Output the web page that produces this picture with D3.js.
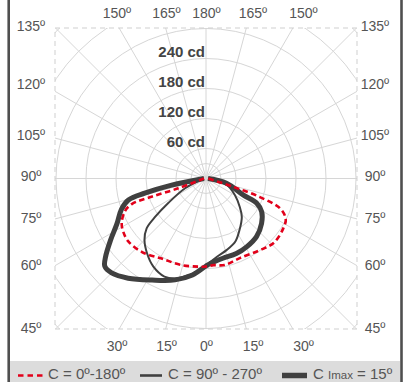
<!DOCTYPE html>
<html>
<head>
<meta charset="utf-8">
<script src="https://cdn.jsdelivr.net/npm/d3@7"></script>
<style>
  html, body { margin: 0; padding: 0; background: #fff; }
  svg { display: block; }
  text { font-family: "Liberation Sans", Arial, sans-serif; }
</style>
</head>
<body>
<svg id="chart" width="412" height="382"></svg>
<script>
// ---------- data ----------
const sideLabels = ["135º", "120º", "105º", "90º", "75º", "60º", "45º"];
const topLabels = ["150º", "165º", "180º", "165º", "150º"];
const bottomLabels = ["30º", "15º", "0º", "15º", "30º"];
const intensityTicks = [60, 120, 180, 240];
const gridCircles = [30, 60, 120, 180, 240, 300, 360, 420];

// C = 0º-180º (red dashed): right half C0, left half C180
const gammaC0 = [0, 5, 12, 23, 39, 47, 57, 63, 68, 71, 73, 90];
const valueC0 = [176, 174, 177, 173, 181, 187, 184, 179, 160, 114, 57, 4];
const gammaC180 = [0, 5, 16, 29, 41, 51, 57, 62, 68, 71, 71.5, 70.5, 90];
const valueC180 = [176, 177, 180, 183, 195, 200, 197, 191, 175, 157, 115, 59, 4];

// C = 90º - 270º (thin solid)
const gammaC90 = [0, 8, 16, 25, 33, 43, 50, 60, 73, 90];
const valueC90 = [174, 158, 149, 139, 123, 105, 88, 67, 43, 4];
const gammaC270 = [0, 4, 11, 17, 23, 31, 38, 45, 50, 53, 57, 65, 90];
const valueC270 = [174, 186, 198, 209, 213, 205, 191, 174, 155, 127, 90, 46, 4];

// C Imax = 15º (thick solid)
const gammaC15 = [0, 3, 12, 22, 31, 41, 51, 59, 64, 66, 77, 90];
const valueC15 = [175, 170, 163, 162, 159, 154, 143, 130, 113, 82, 42, 4];
const gammaC195 = [0, 8, 17, 28, 38, 45, 49, 52, 57, 63, 70, 74.5, 76.5, 79, 90];
const valueC195 = [175, 195, 212, 230, 253, 267, 268, 255, 228, 200, 180, 161, 126, 70, 4];

// ---------- layout ----------
const svg = d3.select("#chart");
const cx = 206, cy = 178.5;
const box = { x0: 55, x1: 357, y0: 28, y1: 329 };
const r = d3.scaleLinear().domain([0, 300]).range([0, 150]);
const toRad = d => d * Math.PI / 180;
const sideBaselines = [31, 89, 140, 180.5, 222.5, 270, 333];
const colX = [117, 166.5, 206.5, 253, 303.5];

// frame
svg.append("rect").attr("x", 10).attr("y", 361).attr("width", 390).attr("height", 21).attr("fill", "#dcdcdc");
svg.append("line").attr("x1", 8.7).attr("x2", 8.7).attr("y1", 0).attr("y2", 382)
  .attr("stroke", "#4f4f4f").attr("stroke-width", 2.6);
svg.append("line").attr("x1", 401.5).attr("x2", 401.5).attr("y1", 0).attr("y2", 382)
  .attr("stroke", "#4f4f4f").attr("stroke-width", 2.6);

// clip
svg.append("clipPath").attr("id", "boxclip").append("rect")
  .attr("x", box.x0).attr("y", box.y0).attr("width", box.x1 - box.x0).attr("height", box.y1 - box.y0);

const grid = svg.append("g").attr("clip-path", "url(#boxclip)");
const gc = grid.append("g").attr("transform", `translate(${cx},${cy})`);
gc.selectAll("circle").data(gridCircles).join("circle")
  .attr("r", d => r(d)).attr("fill", "none").attr("stroke", "#d6d6d6").attr("stroke-width", 1);
const spokes = d3.range(0, 360, 15);
gc.selectAll("line").data(spokes).join("line")
  .attr("x1", 0).attr("y1", 0)
  .attr("x2", d => 240 * Math.sin(toRad(d)))
  .attr("y2", d => -240 * Math.cos(toRad(d)))
  .attr("stroke", "#d6d6d6").attr("stroke-width", 1);

svg.append("rect").attr("x", box.x0).attr("y", box.y0)
  .attr("width", box.x1 - box.x0).attr("height", box.y1 - box.y0)
  .attr("fill", "none").attr("stroke", "#cfcfcf").attr("stroke-width", 1)
  .attr("stroke-dasharray", "5,4");

// ---------- curves ----------
function buildPoints(gL, vL, gR, vR) {
  const left = gL.map((g, i) => ({ a: Math.PI + toRad(g), v: vL[i] })).reverse();
  const right = gR.map((g, i) => ({ a: Math.PI - toRad(g), v: vR[i] }));
  return left.concat(right.slice(1));
}
const radial = d3.lineRadial()
  .angle(d => d.a).radius(d => r(d.v))
  .curve(d3.curveCatmullRom.alpha(0.5));

const curves = svg.append("g").attr("transform", `translate(${cx},${cy})`);
curves.append("path")
  .attr("d", radial(buildPoints(gammaC195, valueC195, gammaC15, valueC15)))
  .attr("fill", "none").attr("stroke", "#404040").attr("stroke-width", 5)
  .attr("stroke-linejoin", "round");
curves.append("path")
  .attr("d", radial(buildPoints(gammaC270, valueC270, gammaC90, valueC90)))
  .attr("fill", "none").attr("stroke", "#404040").attr("stroke-width", 2)
  .attr("stroke-linejoin", "round");
curves.append("path")
  .attr("d", radial(buildPoints(gammaC180, valueC180, gammaC0, valueC0)))
  .attr("fill", "none").attr("stroke", "#e2001a").attr("stroke-width", 2.6)
  .attr("stroke-dasharray", "5.5,3.5");

// ---------- labels ----------
const labelColor = "#555";
svg.append("g").selectAll("text").data(intensityTicks).join("text")
  .attr("x", 205).attr("y", d => cy - r(d) - 1.5)
  .attr("text-anchor", "end").attr("font-size", 15).attr("font-weight", "bold")
  .attr("fill", "#444").text(d => d + " cd");

const sideG = svg.append("g").attr("font-size", 14).attr("fill", labelColor).attr("text-anchor", "middle");
sideG.selectAll("text.l").data(sideLabels).join("text").attr("class", "l")
  .attr("x", 31).attr("y", (d, i) => sideBaselines[i]).text(d => d);
sideG.selectAll("text.r").data(sideLabels).join("text").attr("class", "r")
  .attr("x", 375).attr("y", (d, i) => sideBaselines[i]).text(d => d);
sideG.selectAll("text.t").data(topLabels).join("text").attr("class", "t")
  .attr("x", (d, i) => colX[i]).attr("y", 18).text(d => d);
sideG.selectAll("text.b").data(bottomLabels).join("text").attr("class", "b")
  .attr("x", (d, i) => colX[i]).attr("y", 351).text(d => d);

// ---------- legend ----------
const lg = svg.append("g");
const ly = 375.5;
const tb = 378.6;
lg.append("line").attr("x1", 18).attr("x2", 44).attr("y1", ly).attr("y2", ly)
  .attr("stroke", "#e2001a").attr("stroke-width", 2.6).attr("stroke-dasharray", "5.5,4");
lg.append("text").attr("x", 48).attr("y", tb).attr("font-size", 15).attr("fill", labelColor)
  .text("C = 0º-180º");
lg.append("line").attr("x1", 140).attr("x2", 162).attr("y1", ly).attr("y2", ly)
  .attr("stroke", "#404040").attr("stroke-width", 2.6);
lg.append("text").attr("x", 168).attr("y", tb).attr("font-size", 15).attr("fill", labelColor)
  .text("C = 90º - 270º");
lg.append("line").attr("x1", 282).attr("x2", 307).attr("y1", ly).attr("y2", ly)
  .attr("stroke", "#404040").attr("stroke-width", 5.5);
const lt = lg.append("text").attr("x", 313).attr("y", tb).attr("font-size", 15).attr("fill", labelColor);
lt.append("tspan").text("C ");
lt.append("tspan").attr("font-size", 11.5).text("Imax");
lt.append("tspan").text(" = 15º");
</script>
</body>
</html>
